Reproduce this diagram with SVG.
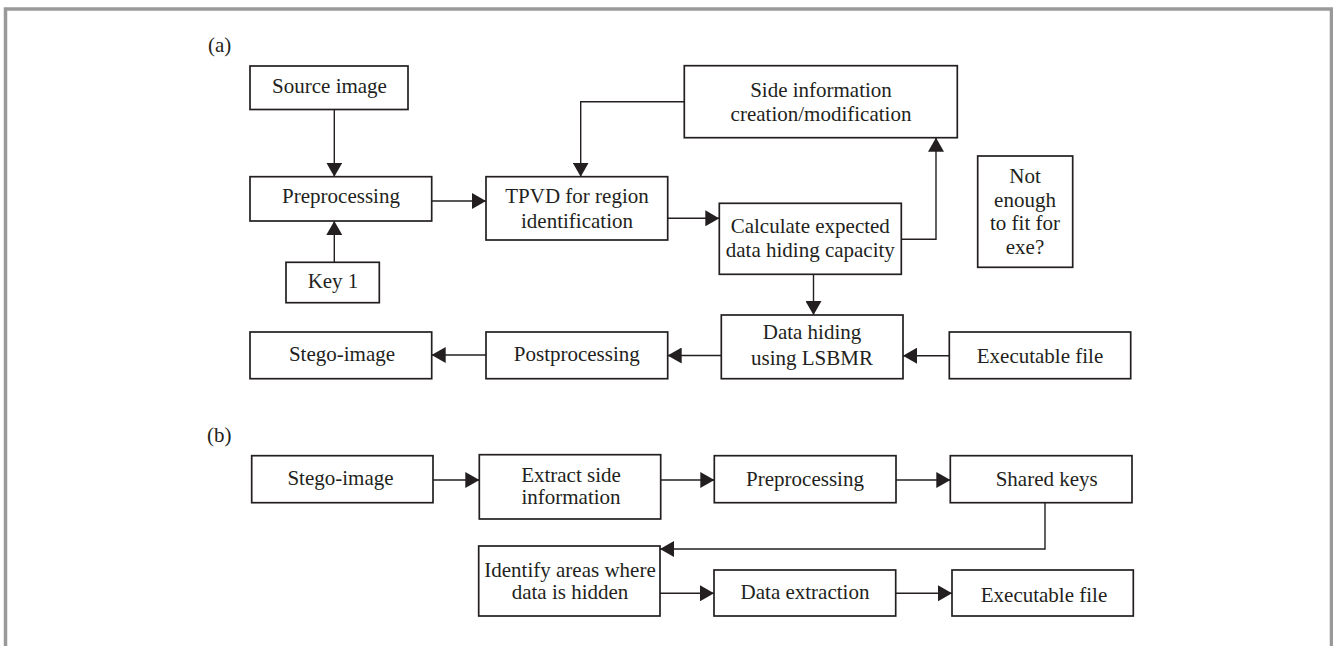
<svg xmlns="http://www.w3.org/2000/svg" width="1333" height="646" viewBox="0 0 1333 646">
<defs>
<style>
.box{fill:#fff;stroke:#231f20;stroke-width:1.7}
.t{font-family:"Liberation Serif","Times New Roman",serif;font-size:21px;fill:#231f20;text-anchor:middle}
.lbl{font-family:"Liberation Serif","Times New Roman",serif;font-size:21px;fill:#231f20}
.c{fill:none;stroke:#231f20;stroke-width:1.4;marker-end:url(#ah)}
</style>
<marker id="ah" markerUnits="userSpaceOnUse" markerWidth="14" markerHeight="16" refX="14" refY="8" orient="auto">
<path d="M0,0 L14,8 L0,16 z" fill="#231f20"/>
</marker>
</defs>
<rect width="1333" height="646" fill="#fff"/>
<path d="M5.5,646 V9 H1331.5 V646" fill="none" stroke="#999" stroke-width="3.5"/>
<text class="lbl" x="208" y="52">(a)</text>
<text class="lbl" x="207" y="442">(b)</text>

<g id="connectors">
<path class="c" d="M334.3,109.3 V176.7"/>
<path class="c" d="M334.3,262.3 V221"/>
<path class="c" d="M431.7,201 H486"/>
<path class="c" d="M684.3,101.7 H580.7 V176.7"/>
<path class="c" d="M667.7,218.3 H719.3"/>
<path class="c" d="M901.3,239.3 H936 V137.7"/>
<path class="c" d="M813.5,274.3 V315"/>
<path class="c" d="M949.3,355.7 H903"/>
<path class="c" d="M721.3,355.5 H667.7"/>
<path class="c" d="M486,355 H431.7"/>
<path class="c" d="M433,480 H479.3"/>
<path class="c" d="M660.7,480 H714.3"/>
<path class="c" d="M896,480 H950.3"/>
<path class="c" d="M1045,503 V549 H660"/>
<path class="c" d="M660,593.3 H714"/>
<path class="c" d="M895.7,593.3 H952"/>
</g>

<g id="source-image"><rect class="box" x="250" y="66" width="158" height="43.5"/><text class="t" x="329.5" y="92.7">Source image</text></g>
<g id="preprocessing-a"><rect class="box" x="250" y="176.7" width="181.7" height="44.3"/><text class="t" x="341" y="202.7">Preprocessing</text></g>
<g id="key1"><rect class="box" x="286" y="262.3" width="93.3" height="40.4"/><text class="t" x="333" y="287.5">Key 1</text></g>
<g id="tpvd"><rect class="box" x="486" y="176.7" width="181.7" height="63.3"/><text class="t" x="577" y="203.3">TPVD for region</text><text class="t" x="577" y="227.7">identification</text></g>
<g id="side-info"><rect class="box" x="684.3" y="65.7" width="273" height="72"/><text class="t" x="821" y="97.3">Side information</text><text class="t" x="821" y="120.7">creation/modification</text></g>
<g id="calculate"><rect class="box" x="719.3" y="203.3" width="182" height="71"/><text class="t" x="810.3" y="233.3">Calculate expected</text><text class="t" x="810.3" y="256.7">data hiding capacity</text></g>
<g id="not-enough"><rect class="box" x="977.7" y="156" width="95" height="111.3"/><text class="t" x="1025" y="182.7">Not</text><text class="t" x="1025" y="206.7">enough</text><text class="t" x="1025" y="230">to fit for</text><text class="t" x="1025" y="254">exe?</text></g>
<g id="data-hiding"><rect class="box" x="721.3" y="315" width="181.7" height="63.7"/><text class="t" x="812" y="339.3">Data hiding</text><text class="t" x="812" y="365">using LSBMR</text></g>
<g id="executable-a"><rect class="box" x="949.3" y="332" width="181.4" height="46.7"/><text class="t" x="1040" y="362.7">Executable file</text></g>
<g id="stego-a"><rect class="box" x="250" y="332" width="181.7" height="46.7"/><text class="t" x="342" y="360.7">Stego-image</text></g>
<g id="postprocessing"><rect class="box" x="486" y="332" width="181.7" height="46.7"/><text class="t" x="576.8" y="360.7">Postprocessing</text></g>

<g id="stego-b"><rect class="box" x="251.7" y="455.7" width="181.3" height="47"/><text class="t" x="340.5" y="485">Stego-image</text></g>
<g id="extract"><rect class="box" x="479.3" y="454.7" width="181.4" height="64.3"/><text class="t" x="571" y="481.7">Extract side</text><text class="t" x="571" y="504.3">information</text></g>
<g id="preprocessing-b"><rect class="box" x="714.3" y="455.7" width="181.7" height="47"/><text class="t" x="805" y="486">Preprocessing</text></g>
<g id="shared-keys"><rect class="box" x="950.3" y="455.7" width="181.7" height="47"/><text class="t" x="1046.7" y="486">Shared keys</text></g>
<g id="identify"><rect class="box" x="478.7" y="546" width="181.3" height="70"/><text class="t" x="570" y="576.7">Identify areas where</text><text class="t" x="570" y="599.3">data is hidden</text></g>
<g id="data-extraction"><rect class="box" x="714" y="570" width="181.7" height="46"/><text class="t" x="805" y="599.3">Data extraction</text></g>
<g id="executable-b"><rect class="box" x="952" y="570" width="181.3" height="46"/><text class="t" x="1044" y="601.7">Executable file</text></g>
</svg>
